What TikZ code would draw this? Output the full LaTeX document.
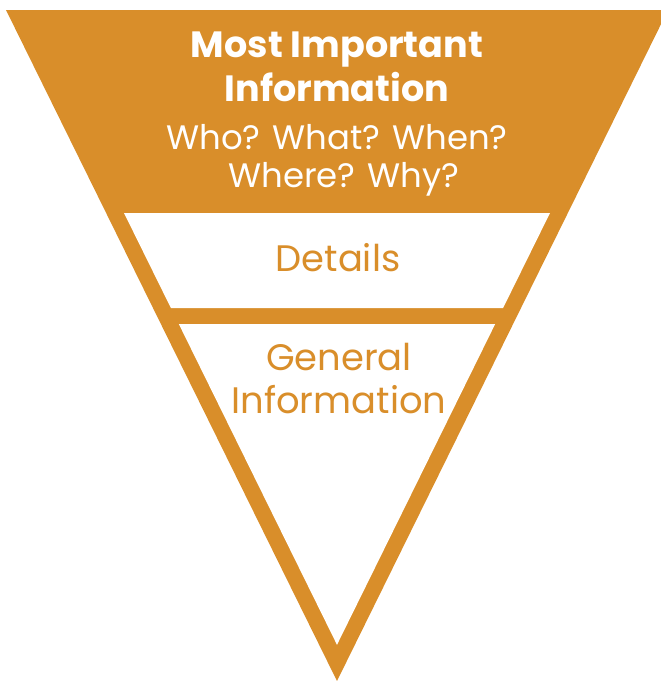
\documentclass[tikz,border=0pt]{standalone}
\usepackage{fontspec}
\setmainfont{Poppins}
\usepackage{tikz}
\usetikzlibrary{positioning}

\definecolor{funnel}{RGB}{217,142,42}

\begin{document}
\begin{tikzpicture}[x=0.02cm, y=-0.02cm,
		headline/.style={text=white, font=\bfseries\fontsize{20.8}{24}\selectfont, inner sep=0pt, anchor=base},
		askline/.style={text=white, font=\fontsize{19.3}{23}\selectfont, inner sep=0pt, anchor=base},
		bandline/.style={text=funnel, font=\fontsize{21}{25}\selectfont, inner sep=0pt, anchor=base}]
				\useasboundingbox (0,0) rectangle (661,681);
				\fill[funnel] (6,10) -- (668,10) -- (337,681) -- cycle;
				\fill[white] (124,213) -- (550,213) -- (503.1,308) -- (170.9,308) -- cycle;
				\fill[white] (178.8,324) -- (495.2,324) -- (337,644.8) -- cycle;
				\node[headline] (most) at (337,57) {Most Important};
				\node[headline] (info) at (337,101) {Information};
				\node[askline] (who) at (337,149) {Who? What? When?};
				\node[askline] (where) at (344,187) {Where? Why?};
				\node[bandline] (details) at (338,271) {Details};
				\node[bandline] (general) at (339,370) {General};
				\node[bandline] (generalinfo) at (339,413) {Information};
			\end{tikzpicture}
\end{document}
